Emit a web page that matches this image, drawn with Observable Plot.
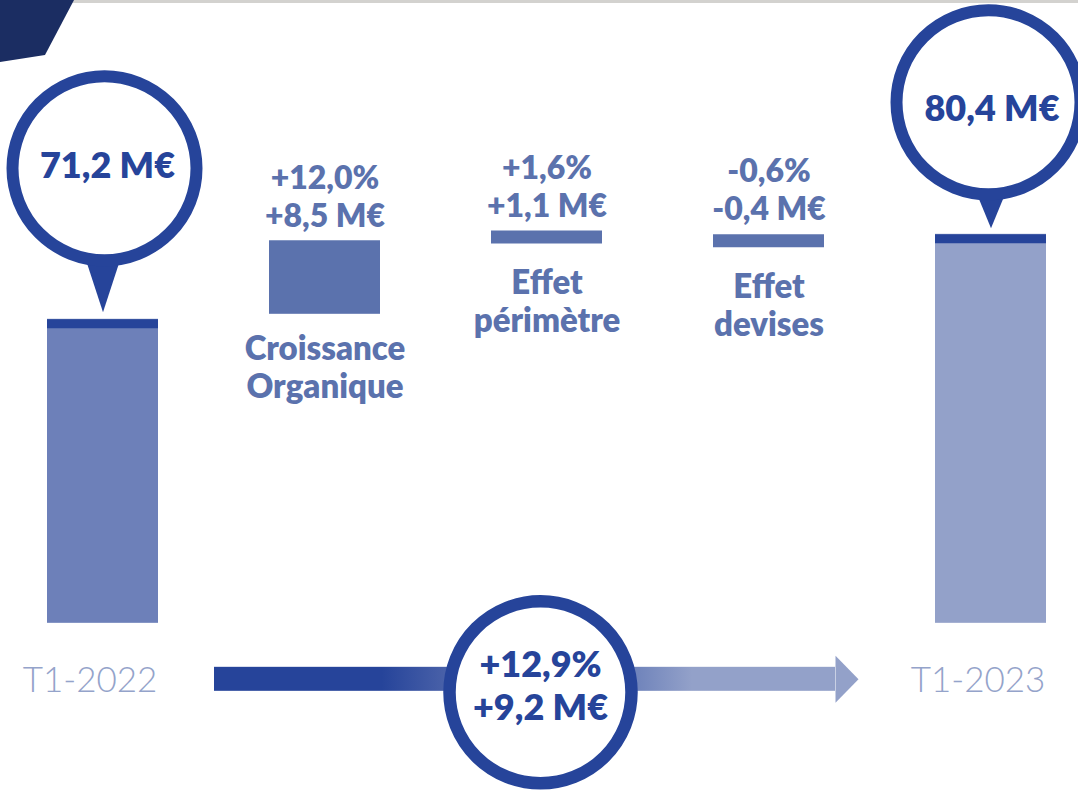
<!DOCTYPE html>
<html>
<head>
<meta charset="utf-8">
<script src="https://cdn.jsdelivr.net/npm/d3@7"></script>
<script src="https://cdn.jsdelivr.net/npm/@observablehq/plot@0.6"></script>
<style>
html, body { margin: 0; padding: 0; background: #ffffff; }
#wrap { position: relative; width: 1078px; height: 791px; overflow: hidden; }
#topline { position: absolute; left: 72px; top: 0; right: 0; height: 3px; background: #d3d2cf; }
#corner { position: absolute; left: 0; top: 0; width: 74px; height: 63px; background: #1b2d62;
  clip-path: polygon(0 0, 74px 0, 45px 55px, 0 62px); }
svg { display: block; }
</style>
</head>
<body>
<div id="wrap"><div id="chart"></div><div id="topline"></div><div id="corner"></div></div>
<script>
// ---- data ----
const categories = ["T1-2022", "Croissance Organique", "Effet périmètre", "Effet devises", "T1-2023"];
const totalPeriods = ["T1-2022", "T1-2023"];
const totalValues = [71.2, 80.4];
const stepCategories = ["Croissance Organique", "Effet périmètre", "Effet devises"];
const stepLabels = ["Croissance\nOrganique", "Effet\npérimètre", "Effet\ndevises"];
const stepDeltas = [8.5, 1.1, -0.4];
const stepPercents = [12.0, 1.6, -0.6];
const overallDelta = 9.2;
const overallPercent = 12.9;

// ---- scale settings (truncated axis as in the original slide) ----
const yDomain = [20.1, 105.7];
const axisFloor = 38.3;

// ---- colours ----
const dark = "#26449a";
const stepColor = "#5b72ad";
const startColor = "#6d80b9";
const endColor = "#93a1c9";
const periodColor = "#94a3ca";

const num = v => Math.abs(v).toFixed(1).replace(".", ",");
const signed = v => (v > 0 ? "+" : v < 0 ? "-" : "") + num(v);

const totals = totalPeriods.map((p, i) => ({
  category: p, value: totalValues[i], fill: i === 0 ? startColor : endColor,
  label: num(totalValues[i]) + " M€", base: axisFloor
}));
let running = totalValues[0];
const steps = stepCategories.map((c, i) => {
  const start = running;
  running = +(running + stepDeltas[i]).toFixed(1);
  return {
    category: c, label: stepLabels[i], delta: stepDeltas[i], start, end: running,
    text: signed(stepPercents[i]) + "%\n" + signed(stepDeltas[i]) + " M€"
  };
});
const tallSteps = steps.filter(d => Math.abs(d.delta) >= 1.5);
const thinSteps = steps.filter(d => Math.abs(d.delta) < 1.5);
const overall = [{
  from: totalPeriods[0], to: totalPeriods[1], mid: categories[2], base: axisFloor,
  text: signed(overallPercent) + "%\n" + signed(overallDelta) + " M€"
}];
const first = totals.filter(d => d.category === totalPeriods[0]);
const last = totals.filter(d => d.category === totalPeriods[1]);

const font = "Lato, 'Open Sans', sans-serif";
const heavy = 800;

const plot = Plot.plot({
  width: 1078,
  height: 791,
  marginTop: 0, marginBottom: 0, marginLeft: 47, marginRight: 32,
  style: { fontFamily: font, background: "transparent", overflow: "hidden" },
  x: { type: "band", domain: categories, paddingInner: 0.5, paddingOuter: 0, axis: null },
  y: { domain: yDomain, axis: null },
  marks: [
    // total bars
    Plot.barY(totals, { x: "category", y1: "base", y2: "value", fill: "fill" }),
    Plot.tickY(totals, { x: "category", y: "value", stroke: dark, strokeWidth: 9, dy: 4.5 }),
    // step bars
    Plot.barY(tallSteps, { x: "category", y1: "start", y2: "end", fill: stepColor, insetBottom: 5 }),
    Plot.tickY(thinSteps, { x: "category", y: "end", stroke: stepColor, strokeWidth: 13, dy: 6.5 }),
    // step value labels
    Plot.text(steps, { x: "category", y: "end", text: "text", dy: -14, lineAnchor: "bottom",
      lineHeight: 1.19, fill: stepColor, fontSize: 32, fontWeight: heavy, fontFamily: font }),
    // step category labels
    Plot.text(tallSteps, { x: "category", y: "start", text: "label", dy: 14, lineAnchor: "top",
      lineHeight: 1.14, fill: stepColor, fontSize: 33, fontWeight: heavy, fontFamily: font }),
    Plot.text(thinSteps, { x: "category", y: "end", text: "label", dy: 37, lineAnchor: "top",
      lineHeight: 1.14, fill: stepColor, fontSize: 33, fontWeight: heavy, fontFamily: font }),
    // bubble pointers
    Plot.vector(first, { x: "category", y: "value", dy: -7, rotate: 180, anchor: "end",
      length: 52, r: 17, shape: "spike", fill: dark, stroke: "none" }),
    Plot.vector(last, { x: "category", y: "value", dy: -6, rotate: 180, anchor: "end",
      length: 34, r: 14, shape: "spike", fill: dark, stroke: "none" }),
    // bubbles
    Plot.dot(first, { x: "category", y: "value", dy: -151, dx: 1.5, r: 92, fill: "white", stroke: dark, strokeWidth: 12 }),
    Plot.dot(last, { x: "category", y: "value", dy: -132, dx: -2.5, r: 92, fill: "white", stroke: dark, strokeWidth: 12 }),
    Plot.text(first, { x: "category", y: "value", text: "label", dy: -153, dx: 4.5,
      fill: dark, fontSize: 36, fontWeight: heavy, fontFamily: font }),
    Plot.text(last, { x: "category", y: "value", text: "label", dy: -125, dx: 1,
      fill: dark, fontSize: 36, fontWeight: heavy, fontFamily: font }),
    // period labels
    Plot.text(totals, { x: "category", y: "base", text: "category", dy: 57, dx: -13,
      fill: periodColor, fontSize: 35, fontWeight: 300, fontFamily: font }),
    // overall arrow
    Plot.rect(overall, { x1: "from", x2: "to", y1: "base", y2: "base",
      insetLeft: 167, insetRight: 211, insetTop: 44, insetBottom: -68, fill: "url(#arrowGrad)" }),
    Plot.vector(overall, { x: "to", y: "base", dx: -155.5, dy: 56, rotate: 90, anchor: "start",
      length: 23, r: 23.5, shape: "spike", fill: endColor, stroke: "none" }),
    Plot.dot(overall, { x: "mid", y: "base", dx: -6.5, dy: 69, r: 91, fill: "white", stroke: dark, strokeWidth: 12.5 }),
    Plot.text(overall, { x: "mid", y: "base", text: "text", dx: -6.5, dy: 61, lineHeight: 1.2,
      fill: dark, fontSize: 36, fontWeight: heavy, fontFamily: font })
  ]
});

const defs = d3.select(plot).insert("defs", ":first-child");
const grad = defs.append("linearGradient").attr("id", "arrowGrad")
  .attr("x1", 0).attr("x2", 1).attr("y1", 0).attr("y2", 0);
[[0, dark], [0.27, dark], [0.37, "#4860a8"], [0.68, "#7084bb"], [0.77, endColor], [1, endColor]]
  .forEach(([o, c]) => grad.append("stop").attr("offset", o).attr("stop-color", c));

document.getElementById("chart").appendChild(plot);
</script>
</body>
</html>
